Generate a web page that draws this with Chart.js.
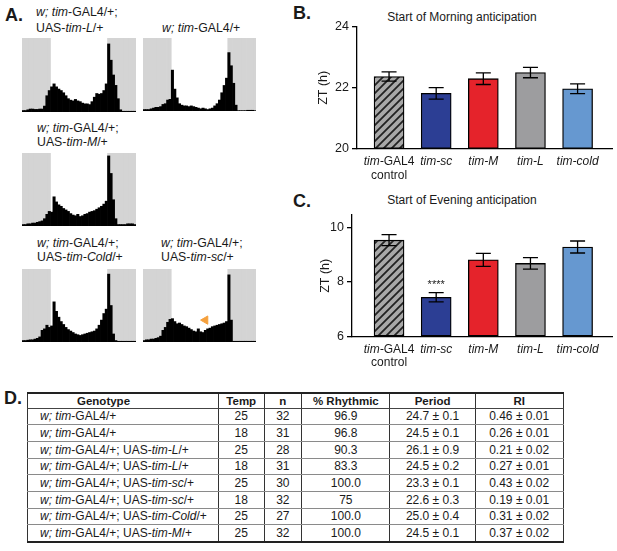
<!DOCTYPE html>
<html>
<head>
<meta charset="utf-8">
<script src="https://cdn.jsdelivr.net/npm/chart.js@4.4.1/dist/chart.umd.min.js"></script>
<style>
body { margin: 0; width: 617px; height: 551px; background: #fff; position: relative; overflow: hidden;
       font-family: Arial, "Liberation Sans", Helvetica, sans-serif; color: #1a1a1a; }
.abs { position: absolute; white-space: nowrap; }
.letter { font-weight: bold; font-size: 18px; line-height: 18px; }
.glabel { font-size: 12.3px; line-height: 14px; }
.ctitle { font-size: 12px; line-height: 14px; width: 220px; text-align: center; }
.box { position: absolute; }
#tbl { position: absolute; left: 27px; top: 392px; border-collapse: collapse; table-layout: fixed;
       font-size: 12px; color: #1a1a1a; }
#tbl th, #tbl td { border-left: 1px solid #333; border-right: 1px solid #333; border-bottom: 1px solid #8a8a8a;
       padding: 0; text-align: center; white-space: nowrap; overflow: hidden; }
#tbl th { font-weight: bold; font-size: 11.5px; border-top: 2px solid #222; border-bottom: 1px solid #444; }
#tbl tr.head { height: 15px; }
#tbl tr.row { height: 16.7px; }
#tbl tr.row:last-child td { border-bottom: 2px solid #222; }
#tbl th.g { text-align: left; padding-left: 49px; }
#tbl td.g { text-align: left; padding-left: 12px; }
</style>
</head>
<body>

<!-- ========================================== -->
<!-- Panel letters and text                       -->
<!-- ========================================== -->
<div class="abs letter" style="left:5px; top:6px">A.</div>
<div class="abs letter" style="left:293px; top:4px">B.</div>
<div class="abs letter" style="left:293px; top:192px">C.</div>
<div class="abs letter" style="left:4px; top:389px">D.</div>

<div class="abs glabel" style="left:36px; top:5px; line-height:15.5px"><i>w; tim</i>-GAL4/+;<br>UAS-<i>tim-L</i>/+</div>
<div class="abs glabel" style="left:162px; top:21px"><i>w; tim</i>-GAL4/+</div>
<div class="abs glabel" style="left:37px; top:121px"><i>w; tim</i>-GAL4/+;<br>UAS-<i>tim-M</i>/+</div>
<div class="abs glabel" style="left:37px; top:236px"><i>w; tim</i>-GAL4/+;<br>UAS-<i>tim-Cold</i>/+</div>
<div class="abs glabel" style="left:161px; top:236px"><i>w; tim</i>-GAL4/+;<br>UAS-<i>tim-sc</i>/+</div>

<div class="abs ctitle" style="left:352px; top:10px">Start of Morning anticipation</div>
<div class="abs ctitle" style="left:352px; top:193px">Start of Evening anticipation</div>

<!-- Actogram histograms -->
<div class="box" style="left:22px; top:38px; width:114px; height:74px"><canvas id="hTimL"></canvas></div>
<div class="box" style="left:143px; top:38px; width:113px; height:73px"><canvas id="hCtrl"></canvas></div>
<div class="box" style="left:22px; top:153px; width:114px; height:73px"><canvas id="hTimM"></canvas></div>
<div class="box" style="left:22px; top:269px; width:114px; height:73px"><canvas id="hTimCold"></canvas></div>
<div class="box" style="left:143px; top:269px; width:113px; height:73px"><canvas id="hTimSc"></canvas></div>

<!-- Bar charts -->
<div class="box" style="left:300px; top:0px; width:317px; height:190px"><canvas id="morning"></canvas></div>
<div class="box" style="left:300px; top:190px; width:317px; height:200px"><canvas id="evening"></canvas></div>

<table id="tbl">
  <colgroup>
    <col style="width:191px"><col style="width:45.5px"><col style="width:37.7px">
    <col style="width:88.3px"><col style="width:85.2px"><col style="width:88px">
  </colgroup>
  <thead></thead>
  <tbody></tbody>
</table>

<script>
// ==========================================
// Data
// ==========================================

// 30 min bins over the 24 h LD day
const binLabels = [0,1,2,3,4,5,6,7,8,9,10,11,12,13,14,15,16,17,18,19,20,21,22,23,
                   24,25,26,27,28,29,30,31,32,33,34,35,36,37,38,39,40,41,42,43,44,45,46,47];
const lightsOnBin = 12;
const lightsOffBin = 36;

// normalised activity per bin
const actTimL = [0.02,0.02,0.03,0.04,0.04,0.035,0.035,0.04,0.04,0.08,
                 0.22,0.29,0.34,0.38,0.34,0.31,0.29,0.26,0.22,0.18,
                 0.16,0.15,0.17,0.15,0.14,0.12,0.11,0.11,0.10,0.14,
                 0.20,0.25,0.24,0.25,0.29,0.38,0.92,0.70,0.50,0.36,
                 0.18,0.03,0.01,0.01,0.01,0.01,0.01,0.01];
const actCtrl = [0.02,0.02,0.02,0.03,0.04,0.05,0.05,0.06,0.09,0.10,
                 0.15,0.16,0.56,0.30,0.18,0.10,0.08,0.07,0.07,0.06,
                 0.07,0.06,0.05,0.04,0.03,0.04,0.03,0.02,0.03,0.04,
                 0.07,0.10,0.15,0.25,0.35,0.45,0.80,0.62,0.38,0.08,
                 0.005,0.005,0.005,0.005,0.01,0.01,0.01,0.005];
const actTimM = [0.02,0.02,0.03,0.03,0.04,0.04,0.05,0.06,0.07,0.10,
                 0.16,0.20,0.19,0.40,0.33,0.29,0.27,0.24,0.22,0.20,
                 0.17,0.15,0.14,0.16,0.13,0.14,0.16,0.17,0.19,0.20,
                 0.21,0.23,0.25,0.27,0.30,0.34,0.96,0.72,0.36,0.10,
                 0.02,0.02,0.02,0.02,0.03,0.03,0.03,0.02];
const actTimCold = [0.02,0.02,0.025,0.03,0.03,0.04,0.05,0.07,0.16,0.18,
                    0.23,0.20,0.22,0.55,0.42,0.34,0.28,0.24,0.20,0.17,
                    0.15,0.13,0.11,0.10,0.09,0.10,0.11,0.12,0.13,0.14,
                    0.15,0.18,0.23,0.30,0.39,0.45,0.93,0.50,0.11,0.02,
                    0.01,0.01,0.01,0.01,0.01,0.01,0.01,0.01];
const actTimSc = [0.02,0.03,0.03,0.04,0.04,0.05,0.06,0.08,0.16,0.20,
                  0.27,0.31,0.32,0.28,0.25,0.26,0.24,0.22,0.21,0.19,
                  0.17,0.15,0.14,0.18,0.14,0.13,0.16,0.18,0.19,0.21,
                  0.22,0.23,0.24,0.25,0.26,0.28,0.92,0.30,0.01,0.01,
                  0.01,0.01,0.01,0.01,0.01,0.01,0.01,0.01];
// orange arrowhead on tim-sc profile
const arrowBin = 26;
const arrowLevel = 0.3;

// B / C
const genotypes = ["tim-GAL4\ncontrol", "tim-sc", "tim-M", "tim-L", "tim-cold"];
const morningZT = [22.37, 21.82, 22.30, 22.50, 21.97];
const morningSEM = [0.15, 0.19, 0.19, 0.17, 0.16];
const eveningZT = [9.53, 7.44, 8.81, 8.68, 9.28];
const eveningSEM = [0.20, 0.17, 0.24, 0.21, 0.22];
const eveningSig = ["", "****", "", "", ""];
const morningTicks = [20, 22, 24];
const eveningTicks = [6, 8, 10];

// D
const tblHeader = ["Genotype", "Temp", "n", "% Rhythmic", "Period", "RI"];
const tblGenotype = [
   "<i>w; tim</i>-GAL4/+",
   "<i>w; tim</i>-GAL4/+",
   "<i>w; tim</i>-GAL4/+; UAS-<i>tim-L</i>/+",
   "<i>w; tim</i>-GAL4/+; UAS-<i>tim-L</i>/+",
   "<i>w; tim</i>-GAL4/+; UAS-<i>tim-sc</i>/+",
   "<i>w; tim</i>-GAL4/+; UAS-<i>tim-sc</i>/+",
   "<i>w; tim</i>-GAL4/+; UAS-<i>tim-Cold</i>/+",
   "<i>w; tim</i>-GAL4/+; UAS-<i>tim-M</i>/+"
];
const tblTemp = [25, 18, 25, 18, 25, 18, 25, 25];
const tblN = [32, 31, 28, 31, 30, 32, 27, 32];
const tblRhythmic = ["96.9", "96.8", "90.3", "83.3", "100.0", "75", "100.0", "100.0"];
const tblPeriod = ["24.7 ± 0.1", "24.5 ± 0.1", "26.1 ± 0.9", "24.5 ± 0.2", "23.3 ± 0.1", "22.6 ± 0.3", "25.0 ± 0.4", "24.5 ± 0.1"];
const tblRI = ["0.46 ± 0.01", "0.26 ± 0.01", "0.21 ± 0.02", "0.27 ± 0.01", "0.43 ± 0.02", "0.19 ± 0.01", "0.31 ± 0.02", "0.37 ± 0.02"];

// ==========================================
// Histograms
// ==========================================

const FONT = 'Arial, "Liberation Sans", Helvetica, sans-serif';
Chart.defaults.font.family = FONT;
Chart.defaults.color = "#1a1a1a";

// dark phase shading (own array per chart, chart.js hooks into data arrays)
function nightShade() {
   return binLabels.map(b => (b < lightsOnBin || b >= lightsOffBin) ? 1 : null);
}

function makeHist(id, values, withArrow) {
   let datasets = [
      { data: values, backgroundColor: "#000", grouped: false, barPercentage: 1, categoryPercentage: 1 },
      { data: nightShade(), backgroundColor: "#d4d4d4", grouped: false, barPercentage: 1, categoryPercentage: 1 }
   ];
   if (withArrow) {
      datasets.unshift({
         type: "line", data: [{ x: arrowBin, y: arrowLevel }], showLine: false,
         pointStyle: "triangle", pointRadius: 4.8, pointRotation: 150,
         pointBackgroundColor: "#f5a03c", pointBorderColor: "#f5a03c", pointBorderWidth: 1
      });
   }
   new Chart(document.getElementById(id), {
      type: "bar",
      data: { labels: binLabels.slice(), datasets: datasets },
      options: {
         responsive: true, maintainAspectRatio: false, animation: false,
         layout: { padding: 0, autoPadding: false },
         plugins: { legend: { display: false }, tooltip: { enabled: false } },
         scales: {
            x: { display: false },
            y: { display: false, min: 0, max: 1 }
         }
      }
   });
}

makeHist("hTimL", actTimL);
makeHist("hCtrl", actCtrl);
makeHist("hTimM", actTimM);
makeHist("hTimCold", actTimCold);
makeHist("hTimSc", actTimSc, true);

// ==========================================
// Bar charts
// ==========================================

function hatch() {
   const s = 8;
   const c = document.createElement("canvas");
   c.width = s; c.height = s;
   const g = c.getContext("2d");
   g.fillStyle = "#a8a8a8";
   g.fillRect(0, 0, s, s);
   g.strokeStyle = "#222";
   g.lineWidth = 1.8;
   g.beginPath();
   g.moveTo(0, s); g.lineTo(s, 0);
   g.moveTo(-2, 2); g.lineTo(2, -2);
   g.moveTo(s - 2, s + 2); g.lineTo(s + 2, s - 2);
   g.stroke();
   return g.createPattern(c, "repeat");
}

const barColors = [hatch(), "#2c3e94", "#e5232b", "#9d9d9f", "#6698d0"];

// italic gene names, roman for GAL4 / control
function drawMixed(ctx, text, cx, cy) {
   const parts = text.split(/(GAL4|control)/).filter(p => p !== "");
   const fonts = parts.map(p => (p === "GAL4" || p === "control") ? "12px " + FONT : "italic 12px " + FONT);
   let total = 0;
   parts.forEach((p, i) => { ctx.font = fonts[i]; total += ctx.measureText(p).width; });
   let x = cx - total / 2;
   parts.forEach((p, i) => {
      ctx.font = fonts[i];
      ctx.fillText(p, x, cy);
      x += ctx.measureText(p).width;
   });
}

const barExtras = {
   id: "barExtras",
   afterDatasetsDraw(chart) {
      const ctx = chart.ctx;
      const ds = chart.data.datasets[0];
      const meta = chart.getDatasetMeta(0);
      const y = chart.scales.y;
      ctx.save();
      ctx.strokeStyle = "#000";
      ctx.lineWidth = 1.3;
      meta.data.forEach((bar, i) => {
         const v = ds.data[i].y, e = ds.errors[i];
         const top = y.getPixelForValue(v + e), bot = y.getPixelForValue(v - e);
         ctx.beginPath();
         ctx.moveTo(bar.x, top); ctx.lineTo(bar.x, bot);
         ctx.moveTo(bar.x - 7.5, top); ctx.lineTo(bar.x + 7.5, top);
         ctx.moveTo(bar.x - 7.5, bot); ctx.lineTo(bar.x + 7.5, bot);
         ctx.stroke();
         if (ds.sig && ds.sig[i]) {
            ctx.fillStyle = "#1a1a1a";
            ctx.font = "11px " + FONT;
            ctx.textAlign = "center";
            ctx.textBaseline = "middle";
            ctx.fillText(ds.sig[i], bar.x, top - 8);
         }
      });
      // category labels
      ctx.fillStyle = "#1a1a1a";
      ctx.textAlign = "left";
      ctx.textBaseline = "middle";
      const bottom = chart.chartArea.bottom;
      meta.data.forEach((bar, i) => {
         genotypes[i].split("\n").forEach((line, k) => {
            drawMixed(ctx, line, bar.x, bottom + 12.7 + k * 13.6);
         });
      });
      ctx.restore();
   }
};

function makeBars(id, values, errs, sig, ticks, yMax, xMin, yWidth, xHeight, topPad, titlePad) {
   new Chart(document.getElementById(id), {
      type: "bar",
      data: {
         datasets: [{
            data: values.map((v, i) => ({ x: i, y: v })),
            errors: errs, sig: sig,
            backgroundColor: barColors, borderColor: "#000", borderWidth: 1.3,
            borderSkipped: false, barThickness: 30, base: ticks[0]
         }]
      },
      options: {
         responsive: true, maintainAspectRatio: false, animation: false,
         layout: { padding: { top: topPad, right: 5, left: 0, bottom: 0 } },
         plugins: { legend: { display: false }, tooltip: { enabled: false } },
         scales: {
            x: {
               type: "linear", min: xMin, max: 4.73, offset: false,
               ticks: { display: false },
               grid: { display: false, offset: false },
               border: { color: "#000", width: 1.3 },
               afterFit: s => { s.height = xHeight; }
            },
            y: {
               min: ticks[0], max: yMax,
               afterBuildTicks: s => { s.ticks = ticks.map(t => ({ value: t })); },
               ticks: { font: { size: 12.5 }, color: "#1a1a1a", padding: 3 },
               grid: { drawOnChartArea: false, tickLength: 5, color: "#000", lineWidth: 1.3 },
               border: { color: "#000", width: 1.3 },
               title: { display: true, text: "ZT (h)", font: { size: 12.5 }, color: "#1a1a1a", padding: { top: titlePad, bottom: 0 } },
               afterFit: s => { s.width = yWidth; }
            }
         }
      },
      plugins: [barExtras]
   });
}

makeBars("morning", morningZT, morningSEM, null, morningTicks, 24, -0.68, 57, 41, 26.7, 16.3);
makeBars("evening", eveningZT, eveningSEM, eveningSig, eveningTicks, 10.45, -0.786, 52, 53.3, 25, 18.2);

// ==========================================
// Table
// ==========================================

const thead = document.querySelector("#tbl thead");
const tbody = document.querySelector("#tbl tbody");
thead.innerHTML = "<tr class='head'>" + tblHeader.map((h, i) => `<th${i === 0 ? " class='g'" : ""}>${h}</th>`).join("") + "</tr>";
tblGenotype.forEach((g, i) => {
   let tr = document.createElement("TR");
   tr.classList.add("row");
   tr.innerHTML = `<td class="g">${g}</td><td>${tblTemp[i]}</td><td>${tblN[i]}</td>` +
                  `<td>${tblRhythmic[i]}</td><td>${tblPeriod[i]}</td><td>${tblRI[i]}</td>`;
   tbody.appendChild(tr);
});
</script>
</body>
</html>
